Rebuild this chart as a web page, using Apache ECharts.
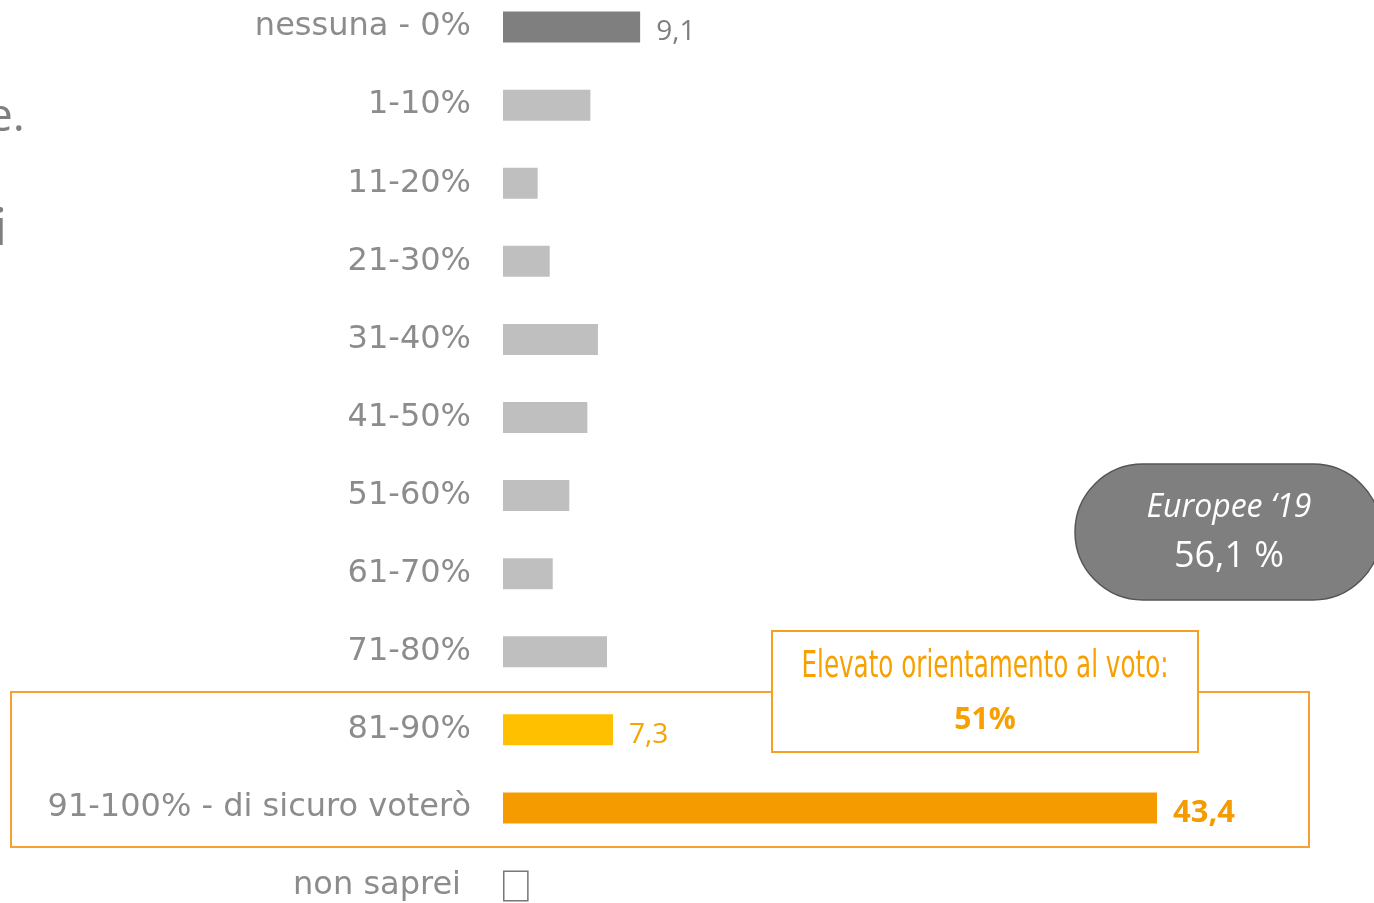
<!DOCTYPE html>
<html>
<head>
<meta charset="utf-8">
<script src="https://cdn.jsdelivr.net/npm/echarts@6/dist/echarts.min.js"></script>
<style>
  html, body { margin: 0; padding: 0; background: #fff; overflow: hidden; }
  /* rows run slightly above the top edge, so the chart box starts 12px higher */
  #chart { position: absolute; left: 0; top: -12px; width: 1374px; height: 937px; }
</style>
</head>
<body>
<div id="chart"></div>
<script>
const categories = [
  'nessuna - 0%', '1-10%', '11-20%', '21-30%', '31-40%', '41-50%',
  '51-60%', '61-70%', '71-80%', '81-90%', '91-100% - di sicuro voterò', 'non saprei'
]
const values = [9.1, 5.8, 2.3, 3.1, 6.3, 5.6, 4.4, 3.3, 6.9, 7.3, 43.4, 1.7]
const labelled = ['nessuna - 0%', '81-90%', '91-100% - di sicuro voterò']
const highShare = '51%'
const europee = { title: 'Europee \u201819', value: '56,1 %' }

const grey = '#7f7f7f'
const orange = '#f59b00'
const dy = 12 // offset of the chart box

function barColor(name) {
  if (name === 'nessuna - 0%') return '#7f7f7f'
  if (name === '81-90%') return '#ffc000'
  if (name === '91-100% - di sicuro voterò') return orange
  if (name === 'non saprei') return '#ffffff'
  return '#bfbfbf'
}
function labelColor(name) {
  if (name === '81-90%') return '#f5a400'
  if (name === '91-100% - di sicuro voterò') return orange
  return grey
}

const chart = echarts.init(document.getElementById('chart'))
chart.setOption({
  animation: false,
  grid: { left: 503, top: 0, width: 654, bottom: 0 },
  xAxis: {
    type: 'value', min: 0, max: 43.4,
    show: false
  },
  yAxis: {
    type: 'category',
    inverse: true,
    data: categories.map(c => c === 'non saprei'
      ? { value: c, textStyle: { padding: [6, 10, 0, 0] } }
      : c),
    axisLine: { show: false },
    axisTick: { show: false },
    axisLabel: {
      margin: 32,
      padding: [6, 0, 0, 0],
      color: '#8c8c8c',
      fontFamily: 'DejaVu Sans',
      fontSize: 32
    }
  },
  series: [{
    type: 'bar',
    barWidth: 31,
    data: values.map((v, i) => {
      const name = categories[i]
      const big = name === '91-100% - di sicuro voterò'
      const item = {
        value: v,
        itemStyle: { color: barColor(name) }
      }
      if (name === 'non saprei') {
        item.itemStyle.borderColor = '#777'
        item.itemStyle.borderWidth = 1.5
      }
      if (labelled.includes(name)) {
        item.label = {
          show: true,
          position: 'right',
          distance: 16,
          offset: [0, 5],
          color: labelColor(name),
          fontFamily: 'Open Sans',
          fontWeight: big ? 'bold' : 'normal',
          fontSize: big ? 31 : 28,
          formatter: p => String(p.value).replace('.', ',')
        }
      }
      return item
    })
  }],
  graphic: [
    // cut-off text from the slide on the left
    { type: 'text', left: -13, top: 95 + dy, style: { text: 'e.', font: '46px "Open Sans"', fill: grey } },
    { type: 'text', left: -6, top: 204 + dy, style: { text: 'i', font: '52px "Open Sans"', fill: grey } },
    // orange frame around the top two classes
    {
      type: 'rect', z: 1,
      shape: { x: 11, y: 692 + dy, width: 1298, height: 155 },
      style: { fill: 'none', stroke: '#f7a033', lineWidth: 2 }
    },
    // callout
    {
      type: 'rect', z: 10,
      shape: { x: 772, y: 631 + dy, width: 426, height: 121 },
      style: { fill: '#fff', stroke: '#f7a020', lineWidth: 2 }
    },
    {
      type: 'text', z: 11, x: 985, y: 667 + dy,
      style: {
        text: 'Elevato orientamento al voto:',
        font: '37px "Liberation Sans Narrow", "DejaVu Sans Condensed", sans-serif',
        fill: '#f7a000', align: 'center', verticalAlign: 'middle'
      },
      scaleX: 0.74
    },
    {
      type: 'text', z: 11, x: 985, y: 720 + dy,
      style: {
        text: highShare,
        font: 'bold 30px "Open Sans", sans-serif',
        fill: '#f7a000', align: 'center', verticalAlign: 'middle'
      }
    },
    // Europee pill
    {
      type: 'rect', z: 10,
      shape: { x: 1075, y: 464 + dy, width: 306, height: 136, r: 68 },
      style: { fill: '#7f7f7f', stroke: '#555', lineWidth: 1.5 }
    },
    {
      type: 'text', z: 11, x: 1229, y: 508 + dy,
      style: {
        text: europee.title,
        font: 'italic 32px "Open Sans", sans-serif',
        fill: '#fff', align: 'center', verticalAlign: 'middle'
      }
    },
    {
      type: 'text', z: 11, x: 1229, y: 557 + dy,
      style: {
        text: europee.value,
        font: '36px "Open Sans", sans-serif',
        fill: '#fff', align: 'center', verticalAlign: 'middle'
      }
    }
  ]
})
</script>
</body>
</html>
